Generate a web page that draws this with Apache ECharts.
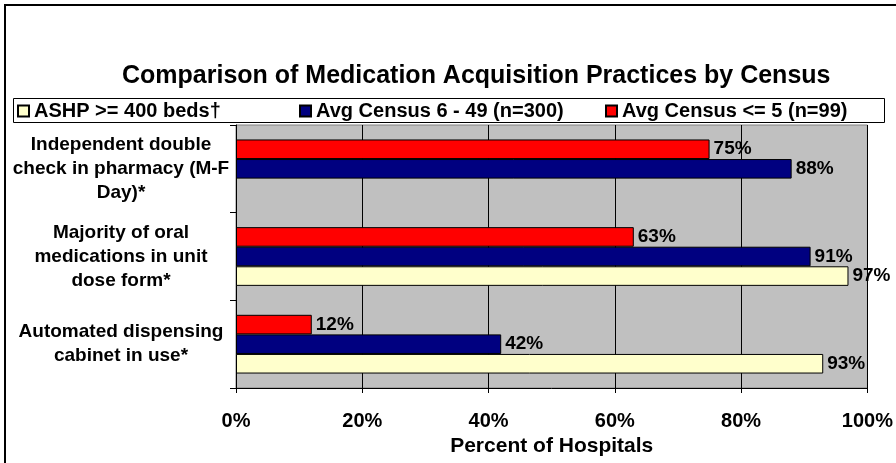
<!DOCTYPE html>
<html>
<head>
<meta charset="utf-8">
<script src="https://cdn.jsdelivr.net/npm/echarts@6/dist/echarts.min.js"></script>
<style>
  html, body {margin: 0; padding: 0; background: #fff;}
  #chart {width: 896px; height: 463px;}
</style>
</head>
<body>
<div id="chart"></div>
<script>
// categories bottom -> top (ECharts puts the first category at the bottom)
const categories = [
    'Automated dispensing\ncabinet in use*',
    'Majority of oral\nmedications in unit\ndose form*',
    'Independent double\ncheck in pharmacy (M-F\nDay)*'
]
const seriesNames = ['ASHP >= 400 beds†', 'Avg Census 6 - 49 (n=300)', 'Avg Census <= 5 (n=99)']
const ashp = [93, 97, null]
const census6to49 = [42, 91, 88]
const censusUnder5 = [12, 63, 75]
const xTicks = [0, 20, 40, 60, 80, 100]

const font = 'Liberation Sans, Arial, sans-serif'
const chart = echarts.init(document.getElementById('chart'))

const labelStyle = {
    show: true,
    position: 'right',
    distance: 4,
    color: '#000',
    fontFamily: font,
    fontWeight: 'bold',
    fontSize: 19,
    formatter: p => p.value == null ? '' : p.value + '%'
}

function bar(name, data, color) {
    return {
        name: name,
        type: 'bar',
        data: data,
        barGap: '0%',
        barCategoryGap: '33%',
        itemStyle: {color: color, borderColor: '#000', borderWidth: 1},
        label: labelStyle,
        silent: true
    }
}

// one legend per entry so the items sit where Excel spread them
const legendLefts = [17, 299, 605]
const legendStyle = {fontFamily: font, fontWeight: 'bold', fontSize: 20, color: '#000'}
const legends = seriesNames.map((n, i) => ({
    data: [{name: n, icon: 'rect'}],
    left: legendLefts[i],
    top: 101,
    padding: 0,
    itemWidth: 11,
    itemHeight: 11,
    textStyle: legendStyle
}))

chart.setOption({
    animation: false,
    backgroundColor: '#fff',
    title: {
        text: 'Comparison of Medication Acquisition Practices by Census',
        left: 117,
        top: 59,
        textStyle: {fontFamily: font, fontWeight: 'bold', fontSize: 25, color: '#000'}
    },
    legend: legends,
    graphic: [{
        type: 'rect',
        shape: {x: 5, y: 5, width: 1000, height: 1000},
        style: {fill: 'none', stroke: '#000', lineWidth: 2},
        silent: true
    }, {
        type: 'rect',
        shape: {x: 13.5, y: 98.5, width: 871, height: 24},
        style: {fill: 'none', stroke: '#000', lineWidth: 1},
        silent: true
    }],
    grid: {
        left: 236, right: 28, top: 125, bottom: 75,
        show: true,
        backgroundColor: '#C0C0C0',
        borderColor: '#808080',
        borderWidth: 1
    },
    xAxis: {
        type: 'value',
        min: xTicks[0],
        max: xTicks[xTicks.length - 1],
        interval: 20,
        name: 'Percent of Hospitals',
        nameLocation: 'middle',
        nameGap: 46,
        nameTextStyle: {fontFamily: font, fontWeight: 'bold', fontSize: 21, color: '#000'},
        axisLine: {show: true, lineStyle: {color: '#000', width: 1}},
        axisTick: {show: true, length: 5, lineStyle: {color: '#000'}},
        axisLabel: {
            margin: 23,
            formatter: v => v + '%',
            fontFamily: font, fontWeight: 'bold', fontSize: 20, color: '#000'
        },
        splitLine: {show: true, lineStyle: {color: '#000', width: 1}}
    },
    yAxis: {
        type: 'category',
        data: categories,
        axisLine: {show: true, lineStyle: {color: '#000', width: 1}},
        axisTick: {show: true, length: 6, lineStyle: {color: '#000'}},
        axisLabel: {
            margin: 115,
            align: 'center',
            lineHeight: 24,
            fontFamily: font, fontWeight: 'bold', fontSize: 19, color: '#000'
        }
    },
    series: [
        bar(seriesNames[2], censusUnder5, '#FF0000'),
        bar(seriesNames[1], census6to49, '#000080'),
        bar(seriesNames[0], ashp, '#FFFFCC')
    ]
})
</script>
</body>
</html>
